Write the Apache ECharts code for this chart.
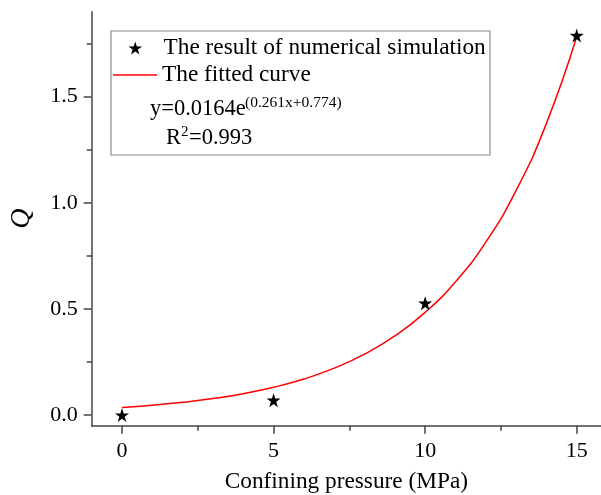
<!DOCTYPE html>
<html>
<head>
<meta charset="utf-8">
<script src="https://cdn.jsdelivr.net/npm/echarts@6/dist/echarts.min.js"></script>
<style>html,body{margin:0;padding:0;background:#fff}#c{width:601px;height:495px}</style>
</head>
<body>
<div id="c"></div>
<script>
// Simulation results (confining pressure MPa, Q)
var simX = [0, 5, 10, 15];
var simY = [0.0, 0.07, 0.527, 1.788];
// Fitted curve
var fitX = [0, 1, 2, 3, 4, 5, 6, 7, 8, 9, 10, 11, 12, 13, 14, 15];
var fitY = [0.0356, 0.0462, 0.0599, 0.0778, 0.101, 0.131, 0.170, 0.221, 0.287, 0.373, 0.484, 0.628, 0.815, 1.058, 1.374, 1.783];
var xTicks = [0, 5, 10, 15];
var xMinorTicks = [2.5, 7.5, 12.5];
var yTicks = [0, 0.5, 1.0, 1.5];
var yMinorTicks = [0.25, 0.75, 1.25, 1.75];

var FONT = "'Liberation Serif','Times New Roman',serif";
var STAR = 'path://M50,0 L61.2,34.5 L97.6,34.5 L68.2,55.9 L79.4,90.5 L50,69.1 L20.6,90.5 L31.8,55.9 L2.4,34.5 L38.8,34.5 Z';
var AX = '#444';

var chart = echarts.init(document.getElementById('c'), null, {renderer: 'canvas'});
var simData = simX.map(function (x, i) { return [x, simY[i]]; });
var fitData = fitX.map(function (x, i) { return [x, fitY[i]]; });

chart.setOption({
  animation: false,
  backgroundColor: '#fff',
  grid: {left: 91.7, top: 11.7, right: 0, bottom: 69.3, containLabel: false, outerBoundsMode: 'none'},
  xAxis: [{
    type: 'value', min: -1, max: 15.8,
    name: 'Confining pressure (MPa)', nameLocation: 'middle', nameGap: 45,
    nameTextStyle: {fontFamily: FONT, fontSize: 23.3, color: '#000'},
    splitLine: {show: false},
    axisLine: {show: true, onZero: false, lineStyle: {color: AX, width: 1.5}},
    axisTick: {show: true, inside: false, length: 8, customValues: xTicks, lineStyle: {color: AX, width: 1.5}},
    axisLabel: {show: true, customValues: xTicks, margin: 15, fontFamily: FONT, fontSize: 22, color: '#000'}
  }, {
    type: 'value', min: -1, max: 15.8, position: 'bottom',
    splitLine: {show: false},
    axisLine: {show: false, onZero: false},
    axisTick: {show: true, length: 5, customValues: xMinorTicks, lineStyle: {color: AX, width: 1.5}},
    axisLabel: {show: false}
  }],
  yAxis: [{
    type: 'value', min: -0.05, max: 1.9,
    name: 'Q', nameLocation: 'middle', nameGap: 56, nameRotate: 90,
    nameTextStyle: {fontFamily: FONT, fontSize: 28, fontStyle: 'italic', color: '#000'},
    splitLine: {show: false},
    axisLine: {show: true, onZero: false, lineStyle: {color: AX, width: 1.5}},
    axisTick: {show: true, length: 8, customValues: yTicks, lineStyle: {color: AX, width: 1.5}},
    axisLabel: {show: true, customValues: yTicks, margin: 14, fontFamily: FONT, fontSize: 22, color: '#000',
      formatter: function (v) { return v.toFixed(1); }}
  }, {
    type: 'value', min: -0.05, max: 1.9, position: 'left',
    splitLine: {show: false},
    axisLine: {show: false, onZero: false},
    axisTick: {show: true, length: 5, customValues: yMinorTicks, lineStyle: {color: AX, width: 1.5}},
    axisLabel: {show: false}
  }],
  legend: [{
    data: [{name: 'The result of numerical simulation', icon: STAR}],
    left: 128.4, top: 36, padding: 0, itemWidth: 46.6, itemHeight: 13,
    textStyle: {fontFamily: FONT, fontSize: 23.3, color: '#000', lineHeight: 24},
    itemStyle: {opacity: 1},
    selectedMode: false
  }, {
    data: [{name: 'The fitted curve', icon: 'rect'}],
    left: 113, top: 63, padding: 0, itemWidth: 44, itemHeight: 1.5,
    textStyle: {fontFamily: FONT, fontSize: 23.3, color: '#000', lineHeight: 24},
    selectedMode: false
  }],
  graphic: [{
    type: 'rect', shape: {x: 111, y: 31, width: 379, height: 124}, z: 0,
    style: {fill: 'rgba(0,0,0,0)', stroke: '#8a8a8a', lineWidth: 1.2}
  }, {
    type: 'text', left: 150, top: 98, z: 10,
    style: {text: 'y=0.0164e', fontFamily: FONT, fontSize: 22.5, fill: '#000'}
  }, {
    type: 'text', left: 245, top: 95, z: 10,
    style: {text: '(0.261x+0.774)', fontFamily: FONT, fontSize: 15.5, fill: '#000'}
  }, {
    type: 'text', left: 166, top: 127, z: 10,
    style: {text: 'R', fontFamily: FONT, fontSize: 22.5, fill: '#000'}
  }, {
    type: 'text', left: 181, top: 125, z: 10,
    style: {text: '2', fontFamily: FONT, fontSize: 15, fill: '#000'}
  }, {
    type: 'text', left: 189, top: 127, z: 10,
    style: {text: '=0.993', fontFamily: FONT, fontSize: 22.5, fill: '#000'}
  }],
  series: [{
    name: 'The fitted curve', type: 'line', data: fitData, smooth: true,
    showSymbol: false, symbol: 'none', xAxisIndex: 0, yAxisIndex: 0,
    lineStyle: {color: '#ff0000', width: 1.5}, itemStyle: {color: '#ff0000'}, z: 2
  }, {
    name: 'The result of numerical simulation', type: 'scatter', data: simData,
    symbol: STAR, symbolSize: 14, xAxisIndex: 0, yAxisIndex: 0,
    itemStyle: {color: '#000', opacity: 1}, z: 3
  }]
});
</script>
</body>
</html>
